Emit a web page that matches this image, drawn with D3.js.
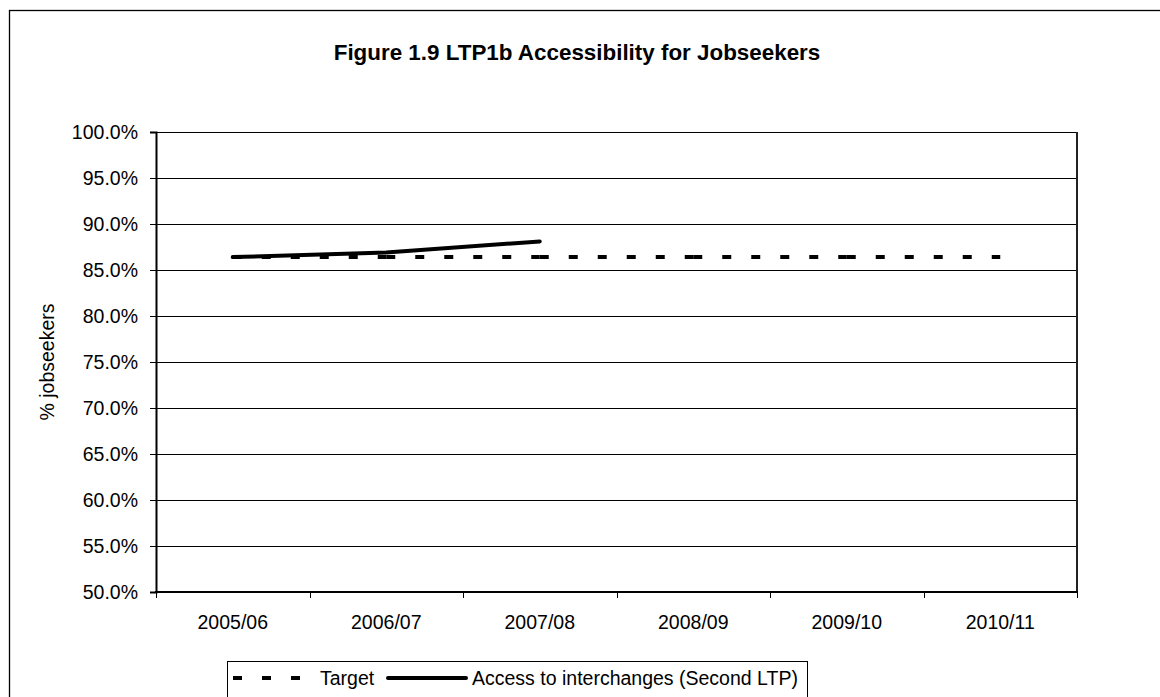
<!DOCTYPE html>
<html>
<head>
<meta charset="utf-8">
<script src="https://cdn.jsdelivr.net/npm/d3@7"></script>
<style>
  html, body { margin: 0; padding: 0; background: #fff; }
  svg { display: block; font-family: "Liberation Sans", Arial, sans-serif; }
</style>
</head>
<body>
<script>
// Financial years on the category axis
const years = ["2005/06", "2006/07", "2007/08", "2008/09", "2009/10", "2010/11"];
// Target share of jobseekers (%)
const targetValues = [86.4, 86.4, 86.4, 86.4, 86.4, 86.4];
// Access to interchanges, Second LTP (%); later years not yet reported
const accessValues = [86.4, 86.9, 88.1, null, null, null];
// Value axis ticks (%)
const yTicks = [50, 55, 60, 65, 70, 75, 80, 85, 90, 95, 100];

const W = 1160, H = 697;
const plot = { left: 156, right: 1077, top: 132, bottom: 592 };

const svg = d3.select("body").append("svg").attr("width", W).attr("height", H);

// Outer chart frame
svg.append("rect")
  .attr("x", 9.5).attr("y", 10.5).attr("width", 1300).attr("height", 900)
  .attr("fill", "#fff").attr("stroke", "#000").attr("stroke-width", 1.3);

const x = d3.scaleBand().domain(years).range([plot.left, plot.right]).padding(0);
const xEdge = d3.scaleLinear().domain([0, years.length]).range([plot.left, plot.right]);
const y = d3.scaleLinear().domain([50, 100]).range([plot.bottom, plot.top]);

// Horizontal gridlines
svg.append("g").selectAll("line").data(yTicks.filter(v => v > 50)).join("line")
  .attr("x1", plot.left).attr("x2", plot.right)
  .attr("y1", d => Math.round(y(d)) + 0.5).attr("y2", d => Math.round(y(d)) + 0.5)
  .attr("stroke", "#000").attr("stroke-width", 1);

// Right border of the plot area
svg.append("line")
  .attr("x1", plot.right).attr("x2", plot.right)
  .attr("y1", plot.top).attr("y2", plot.bottom)
  .attr("stroke", "#222").attr("stroke-width", 2);

// Value axis
const yAxis = svg.append("g")
  .attr("transform", `translate(${plot.left},0)`)
  .call(d3.axisLeft(y).tickValues(yTicks).tickFormat(d => d.toFixed(1) + "%").tickSize(6).tickPadding(12));
yAxis.select(".domain").attr("stroke", "#000").attr("stroke-width", 2);
yAxis.selectAll(".tick line").attr("stroke", "#000").attr("stroke-width", 1);
yAxis.selectAll("text").attr("font-size", 19.5).attr("fill", "#000")
  .attr("font-family", "Liberation Sans, Arial, sans-serif");

// Category axis: labels centred in each band, ticks on band edges
const xAxis = svg.append("g").attr("transform", `translate(0,${plot.bottom})`);
xAxis.append("line")
  .attr("x1", plot.left - 1).attr("x2", plot.right + 1)
  .attr("y1", 0).attr("y2", 0)
  .attr("stroke", "#000").attr("stroke-width", 2);
xAxis.selectAll("line.tick").data(d3.range(years.length + 1)).join("line")
  .attr("class", "tick")
  .attr("x1", d => Math.round(xEdge(d)) + 0.5).attr("x2", d => Math.round(xEdge(d)) + 0.5)
  .attr("y1", 0).attr("y2", 6)
  .attr("stroke", "#000").attr("stroke-width", 1);
xAxis.selectAll("text").data(years).join("text")
  .attr("x", d => x(d) + x.bandwidth() / 2)
  .attr("y", 37)
  .attr("text-anchor", "middle")
  .attr("font-size", 19.5).attr("fill", "#000")
  .text(d => d);

const cx = d => x(d) + x.bandwidth() / 2;

// Target series: each segment dashed from its own start point
const targetPts = years.map((yr, i) => [cx(yr), y(targetValues[i])]);
const segs = d3.pairs(targetPts);
const seg = d3.line();
svg.append("g").selectAll("path").data(segs).join("path")
  .attr("d", d => seg(d))
  .attr("fill", "none").attr("stroke", "#000")
  .attr("stroke-width", 4).attr("stroke-dasharray", "9,20");

// Access to interchanges series
const accessLine = d3.line()
  .defined(d => d.v != null)
  .x(d => cx(d.yr)).y(d => y(d.v));
svg.append("path")
  .datum(years.map((yr, i) => ({ yr, v: accessValues[i] })))
  .attr("d", accessLine)
  .attr("fill", "none").attr("stroke", "#000")
  .attr("stroke-width", 4).attr("stroke-linecap", "round").attr("stroke-linejoin", "round");

// Title
svg.append("text")
  .attr("x", 577).attr("y", 60)
  .attr("text-anchor", "middle")
  .attr("font-size", 22.4).attr("font-weight", "bold").attr("fill", "#000")
  .text("Figure 1.9 LTP1b Accessibility for Jobseekers");

// Value axis title
svg.append("text")
  .attr("transform", `translate(54,${(plot.top + plot.bottom) / 2}) rotate(-90)`)
  .attr("text-anchor", "middle")
  .attr("font-size", 19.5).attr("fill", "#000")
  .text("% jobseekers");

// Legend
const lg = svg.append("g");
lg.append("rect")
  .attr("x", 227.5).attr("y", 661.5).attr("width", 580).attr("height", 42)
  .attr("fill", "#fff").attr("stroke", "#000").attr("stroke-width", 1);
lg.append("line")
  .attr("x1", 233).attr("x2", 301).attr("y1", 678).attr("y2", 678)
  .attr("stroke", "#000").attr("stroke-width", 4).attr("stroke-dasharray", "9,20");
lg.append("text")
  .attr("x", 320).attr("y", 685)
  .attr("font-size", 19.5).attr("fill", "#000").text("Target");
lg.append("line")
  .attr("x1", 388).attr("x2", 466).attr("y1", 678).attr("y2", 678)
  .attr("stroke", "#000").attr("stroke-width", 4).attr("stroke-linecap", "round");
lg.append("text")
  .attr("x", 472).attr("y", 685)
  .attr("font-size", 19.5).attr("fill", "#000").text("Access to interchanges (Second LTP)");
</script>
</body>
</html>
